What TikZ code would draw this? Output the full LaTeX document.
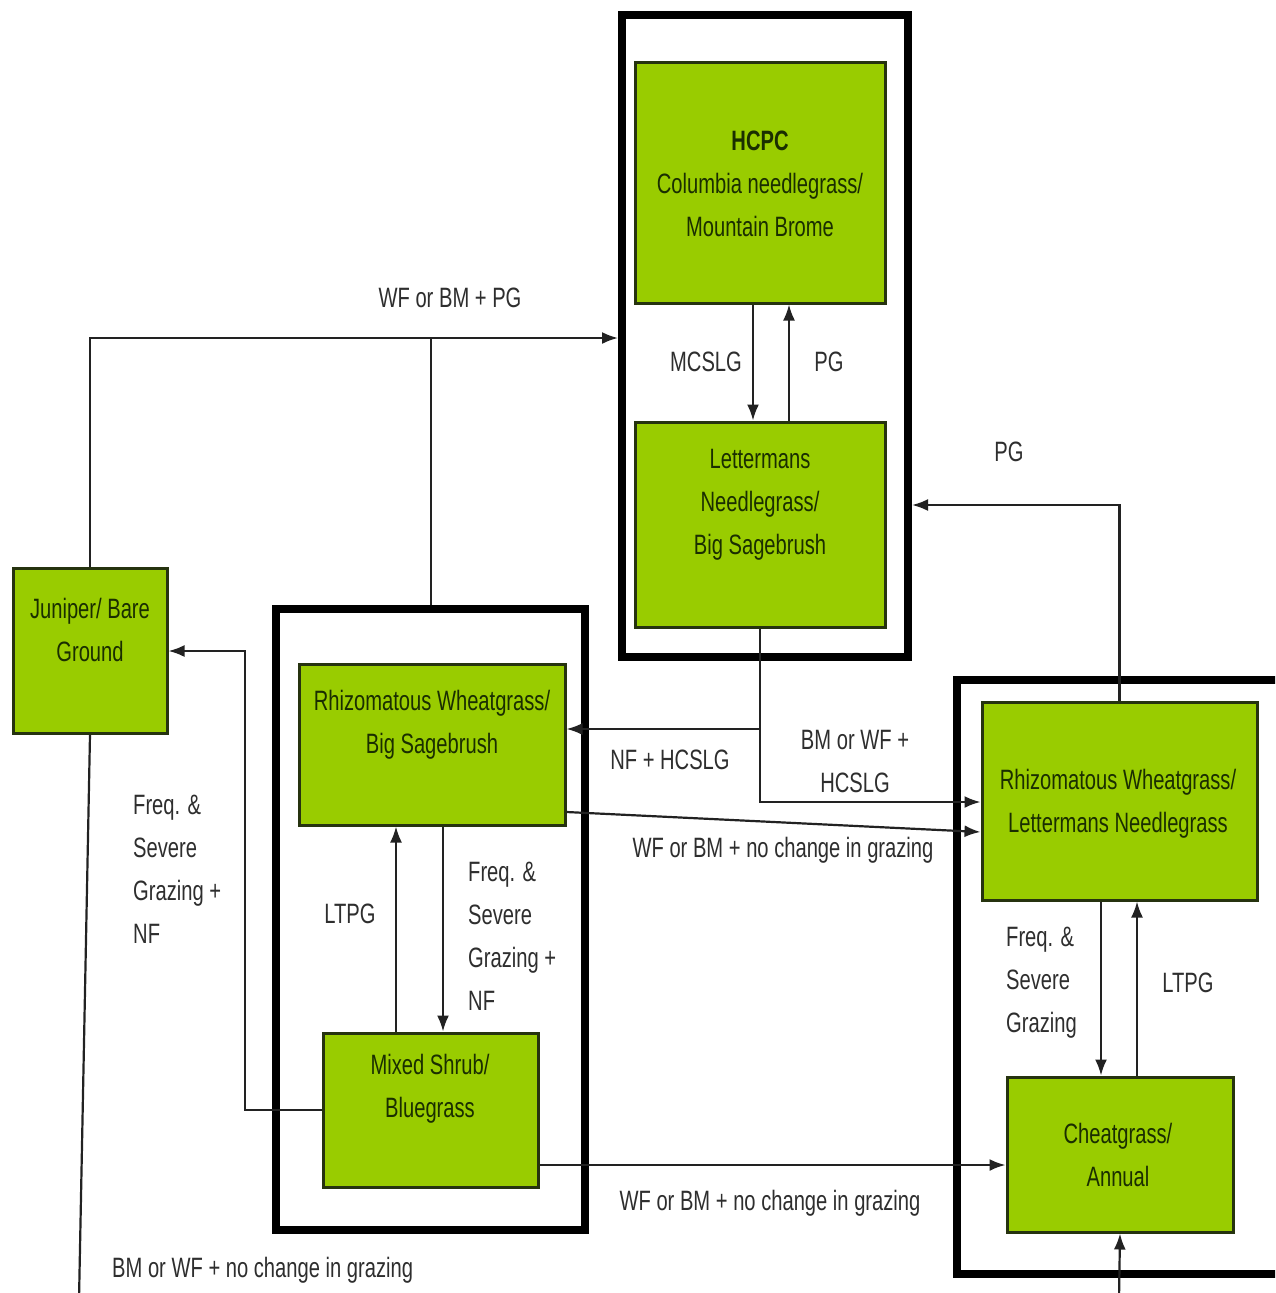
\documentclass[tikz,border=0pt]{standalone}
\usepackage{fontspec}
\setmainfont{Liberation Sans}[FakeStretch=0.72]
\usetikzlibrary{arrows.meta}
\definecolor{gfill}{HTML}{99CC00}
\definecolor{gline}{HTML}{26330F}
\definecolor{gtext}{HTML}{1A2E00}
\definecolor{ltext}{HTML}{2E2E2E}
\definecolor{cline}{HTML}{222222}
\tikzset{
  statebox/.style={draw=gline, fill=gfill, line width=3pt, inner sep=0pt},
  groupbox/.style={draw=black, line width=8pt, inner sep=0pt},
  boxtext/.style={text=gtext, align=center, inner sep=0pt, font=\fontsize{28}{43}\selectfont},
  lab/.style={text=ltext, inner sep=0pt, font=\fontsize{28}{43}\selectfont},
  conn/.style={draw=cline, line width=2.2pt},
  arr/.style={conn, -{Latex[length=16pt,width=12pt]}},
}
\begin{document}
\begin{tikzpicture}[x=1pt,y=-1pt]
\useasboundingbox (0,0) rectangle (1275,1293);
\clip (0,0) rectangle (1275,1293);
\fill[white] (0,0) rectangle (1275,1293);

% group boxes
\node[groupbox, minimum width=286pt, minimum height=642pt] (boxA) at (765,336) {};
\node[groupbox, minimum width=309pt, minimum height=621pt] (boxB) at (430.5,919.5) {};
\node[groupbox, minimum width=328pt, minimum height=594pt] (boxC) at (1121,977) {};

% state boxes
\node[statebox, minimum width=250pt, minimum height=241pt] (hcpc) at (760,182.5) {};
\node[statebox, minimum width=250pt, minimum height=205pt] (lett) at (760,524.5) {};
\node[statebox, minimum width=154pt, minimum height=165pt] (jun) at (90,650.5) {};
\node[statebox, minimum width=266pt, minimum height=161pt] (rbs) at (432,744.5) {};
\node[statebox, minimum width=215pt, minimum height=154pt] (mix) at (430.5,1110) {};
\node[statebox, minimum width=275pt, minimum height=198pt] (rl) at (1119.5,801) {};
\node[statebox, minimum width=226pt, minimum height=155pt] (cheat) at (1120,1154.5) {};

% box texts
\node[boxtext] (thcpc) at (760,184) {{\bfseries HCPC}\\Columbia needlegrass/\\Mountain Brome};
\node[boxtext] (tlett) at (760,505) {Lettermans\\Needlegrass/\\Big Sagebrush};
\node[boxtext] (tjun) at (90,630) {Juniper/ Bare\\Ground};
\node[boxtext] (trbs) at (432,725) {Rhizomatous Wheatgrass/\\Big Sagebrush};
\node[boxtext] (tmix) at (430,1089) {Mixed Shrub/\\Bluegrass};
\node[boxtext] (trl) at (1118,804) {Rhizomatous Wheatgrass/\\Lettermans Needlegrass};
\node[boxtext] (tcheat) at (1118,1155) {Cheatgrass/\\Annual};

% helper coordinates
\coordinate (y338) at (0,338);
\coordinate (x431) at (431,0);
\coordinate (y505) at (0,505);
\coordinate (x753) at (753,0);
\coordinate (x789) at (789,0);
\coordinate (y729) at (0,729);
\coordinate (y802) at (0,802);
\coordinate (y812) at (0,812);
\coordinate (y832) at (0,832);
\coordinate (x396) at (396,0);
\coordinate (x443) at (443,0);
\coordinate (y1110) at (0,1110);
\coordinate (y651) at (0,651);
\coordinate (x245) at (245,0);
\coordinate (y1165) at (0,1165);
\coordinate (x1101) at (1101,0);
\coordinate (x1137) at (1137,0);
\coordinate (junend) at (79,1300);
\coordinate (cheatstart) at (1119,1300);

% connectors
\draw[arr] (jun.north) |- (boxA.west |- y338);
\draw[conn] (boxB.north -| x431) -- (x431 |- y338);
\draw[arr] (hcpc.south -| x753) -- (lett.north -| x753);
\draw[arr] (lett.north -| x789) -- (hcpc.south -| x789);
\draw[arr] (lett.south) |- (rbs.east |- y729);
\draw[arr] (lett.south) |- (rl.west |- y802);
\draw[arr] (rbs.east |- y812) -- (rl.west |- y832);
\draw[arr] (mix.north -| x396) -- (rbs.south -| x396);
\draw[arr] (rbs.south -| x443) -- (mix.north -| x443);
\draw[arr] (mix.west |- y1110) -| (x245 |- y651) -- (jun.east |- y651);
\draw[arr] (mix.east |- y1165) -- (cheat.west |- y1165);
\draw[arr] (rl.south -| x1101) -- (cheat.north -| x1101);
\draw[arr] (cheat.north -| x1137) -- (rl.south -| x1137);
\draw[arr] (rl.north) |- (boxA.east |- y505);
\draw[conn] (jun.south) -- (junend);
\draw[arr] (cheatstart) -- (cheat.south);

% labels
\node[lab] (l1) at (450,298) {WF or BM + PG};
\node[lab] (l2) at (706,362) {MCSLG};
\node[lab] (l3) at (829,362) {PG};
\node[lab] (l4) at (1009,452) {PG};
\node[lab] (l5) at (670,760) {NF + HCSLG};
\node[lab, align=center] (l6) at (855,761) {BM or WF +\\HCSLG};
\node[lab] (l7) at (783,850) {WF or BM + no change in grazing};
\node[lab] (l8) at (350,914) {LTPG};
\node[lab, align=left, anchor=west] (l9) at (468,936) {Freq. \&\\Severe\\Grazing +\\NF};
\node[lab, align=left, anchor=west] (l10) at (133,869) {Freq. \&\\Severe\\Grazing +\\NF};
\node[lab, align=left, anchor=west] (l11) at (1006,983) {Freq. \&\\Severe\\Grazing};
\node[lab] (l12) at (1188,983) {LTPG};
\node[lab] (l13) at (770,1203) {WF or BM + no change in grazing};
\node[lab, anchor=west] (l14) at (112,1270) {BM or WF + no change in grazing};
\end{tikzpicture}
\end{document}
